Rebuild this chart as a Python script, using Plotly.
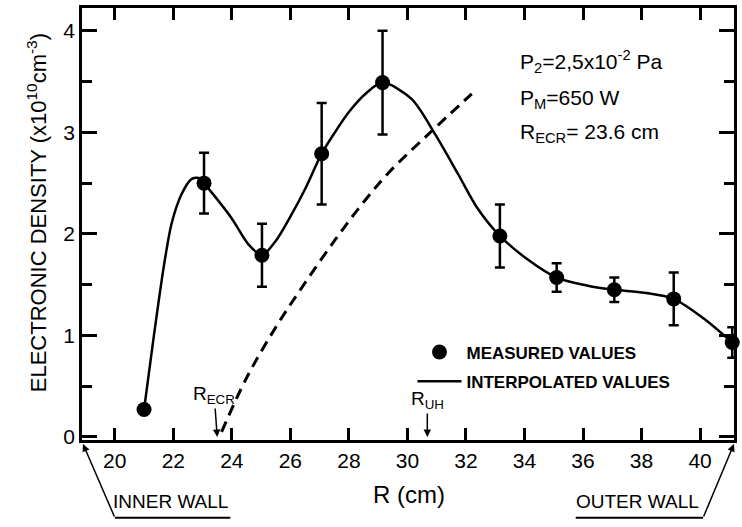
import plotly.graph_objects as go

# Measured values (R in cm, density in 1e10 cm^-3) with error bars
r_meas = [21.0, 23.05, 25.03, 27.07, 29.15, 33.16, 35.1, 37.07, 39.1, 41.1]
n_meas = [0.27, 2.50, 1.79, 2.79, 3.49, 1.98, 1.57, 1.45, 1.36, 0.93]
n_err = [0.0, 0.30, 0.31, 0.50, 0.51, 0.31, 0.14, 0.12, 0.26, 0.15]

# Interpolated (solid) curve
r_interp = [21.0, 21.3, 21.67, 21.94, 22.28, 22.62, 22.9, 23.05, 23.98, 24.56, 25.03,
            25.5, 26.0, 26.5, 27.07, 27.5, 28.0, 28.57, 29.15, 30.14, 30.95, 31.73,
            32.4, 33.16, 34.1, 35.1, 36.16, 37.07, 38.1, 39.1, 40.2, 41.1]
n_interp = [0.27, 0.92, 1.67, 2.10, 2.39, 2.54, 2.55, 2.50, 2.16, 1.90, 1.79,
            1.93, 2.17, 2.44, 2.79, 2.99, 3.20, 3.38, 3.49, 3.33, 2.98, 2.59,
            2.25, 1.98, 1.75, 1.57, 1.49, 1.45, 1.42, 1.36, 1.15, 0.93]

# Dashed curve
r_dash = [23.65, 24.5, 25.5, 26.46, 27.55, 28.44, 29.35, 30.71, 32.2]
n_dash = [0.05, 0.58, 1.08, 1.50, 1.95, 2.29, 2.60, 2.98, 3.38]

x_ticks = [20, 22, 24, 26, 28, 30, 32, 34, 36, 38, 40]
y_ticks = [0, 1, 2, 3, 4]

r_ecr = 23.5
r_uh = 30.68

FONT = "Liberation Sans, Arial, sans-serif"

fig = go.Figure()

fig.add_trace(go.Scatter(
    x=r_dash, y=n_dash, mode="lines", line=dict(color="black", width=3, dash="11px,7px", shape="spline"),
    showlegend=False, hoverinfo="skip"))

fig.add_trace(go.Scatter(
    x=[None], y=[None], mode="markers", marker=dict(color="black", size=15),
    name="MEASURED VALUES", legendgroup="a"))

fig.add_trace(go.Scatter(
    x=r_interp, y=n_interp, mode="lines", line=dict(color="black", width=2.5, shape="spline", smoothing=0.8),
    name="INTERPOLATED VALUES", legendgroup="b"))

fig.add_trace(go.Scatter(
    x=r_meas, y=n_meas, mode="markers", marker=dict(color="black", size=15),
    error_y=dict(type="data", array=n_err, color="black", thickness=2.5, width=5),
    showlegend=False, cliponaxis=False))

ax_common = dict(showline=True, linecolor="black", linewidth=2.5, mirror="ticks",
                 ticks="inside", tickcolor="black", tickwidth=2.5, showgrid=False,
                 zeroline=False, tickfont=dict(family=FONT, size=21, color="black"))

fig.update_xaxes(range=[18.88, 41.16], tickvals=x_ticks, ticklen=12, **ax_common)
fig.update_yaxes(range=[-0.03, 4.225], tickvals=y_ticks, ticklen=15,
                 minor=dict(dtick=0.5, ticks="inside", ticklen=10, tickcolor="black", tickwidth=2.5),
                 **ax_common)

ann = []
def A(**k):
    ann.append(k)

def P(px, py):
    return (px - 82) / 655, (440 - py) / 434

# Y title
tx, ty = P(37, 212)
A(text="ELECTRONIC DENSITY (x10<sup>10</sup>cm<sup>-3</sup>)", xref="paper", yref="paper",
  x=tx, y=ty, xanchor="center", yanchor="middle", textangle=-90, showarrow=False,
  font=dict(family=FONT, size=22, color="black"))
# X title
tx, ty = P(411, 495)
A(text="R (cm)", xref="paper", yref="paper", x=tx, y=ty, xanchor="center", yanchor="middle",
  showarrow=False, font=dict(family=FONT, size=24, color="black"))
# parameters
for txt, py in [("P<sub>2</sub>=2,5x10<sup>-2</sup> Pa", 60),
                ("P<sub>M</sub>=650 W", 97),
                ("R<sub>ECR</sub>= 23.6 cm", 132)]:
    tx, ty = P(520, py)
    A(text=txt, xref="paper", yref="paper", x=tx, y=ty,
      xanchor="left", yanchor="middle", showarrow=False, font=dict(family=FONT, size=21, color="black"))
# resonance arrows
A(text="R<sub>ECR</sub>", x=r_ecr, y=0, ax=-3, ay=-42, showarrow=True, arrowhead=2,
  arrowsize=1, arrowwidth=1.5, arrowcolor="black", font=dict(family=FONT, size=19, color="black"))
A(text="R<sub>UH</sub>", x=r_uh, y=0, ax=0, ay=-37, showarrow=True, arrowhead=2,
  arrowsize=1, arrowwidth=1.5, arrowcolor="black", font=dict(family=FONT, size=19, color="black"))
# walls
tx, ty = P(83, 444)
A(text="", xref="paper", yref="paper", x=tx, y=ty, ax=32, ay=74, showarrow=True, arrowhead=2,
  arrowsize=1, arrowwidth=1.5, arrowcolor="black")
tx, ty = P(737, 444)
A(text="", xref="paper", yref="paper", x=tx, y=ty, ax=-31, ay=74, showarrow=True, arrowhead=2,
  arrowsize=1, arrowwidth=1.5, arrowcolor="black")
tx, ty = P(171, 502)
A(text="INNER WALL", xref="paper", yref="paper", x=tx, y=ty, xanchor="center", yanchor="middle",
  showarrow=False, font=dict(family=FONT, size=19, color="black"))
tx, ty = P(640, 502)
A(text="OUTER WALL", xref="paper", yref="paper", x=tx, y=ty, xanchor="center", yanchor="middle",
  showarrow=False, font=dict(family=FONT, size=19, color="black"))

shapes = []
x0, y0 = P(115, 518); x1, y1 = P(231, 518)
shapes.append(dict(type="line", xref="paper", yref="paper", x0=x0, y0=y0, x1=x1, y1=y1,
                   line=dict(color="black", width=2)))
x0, y0 = P(578, 518); x1, y1 = P(706, 518)
shapes.append(dict(type="line", xref="paper", yref="paper", x0=x0, y0=y0, x1=x1, y1=y1,
                   line=dict(color="black", width=2)))

lx, ly = P(414, 334)
fig.update_layout(
    width=742, height=527, margin=dict(l=82, r=5, t=6, b=87),
    paper_bgcolor="white", plot_bgcolor="white",
    annotations=ann, shapes=shapes,
    legend=dict(x=lx, y=ly, xanchor="left", yanchor="top", itemwidth=44,
                bgcolor="rgba(0,0,0,0)", tracegroupgap=4,
                font=dict(family=FONT, size=17, color="black", weight="bold")),
    font=dict(family=FONT, color="black"),
)

fig.write_html("out.html")
